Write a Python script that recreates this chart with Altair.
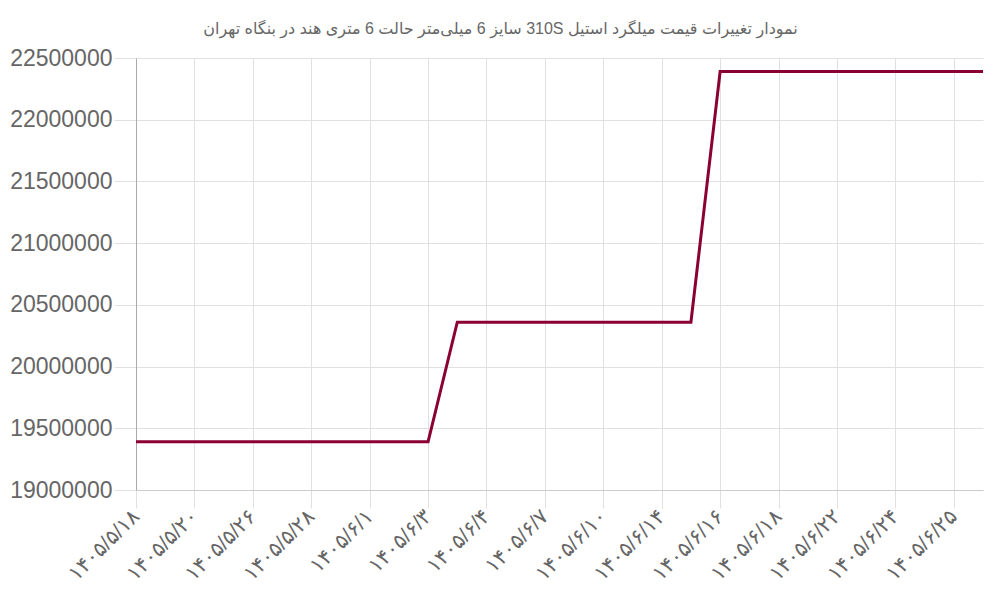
import json
import altair as alt
import pandas as pd

title_text = "نمودار تغییرات قیمت میلگرد استیل 310S سایز 6 میلی‌متر حالت 6 متری هند در بنگاه تهران"

tick_labels = [
    "۱۴۰۵/۵/۱۸", "۱۴۰۵/۵/۲۰", "۱۴۰۵/۵/۲۶", "۱۴۰۵/۵/۲۸", "۱۴۰۵/۶/۱",
    "۱۴۰۵/۶/۳", "۱۴۰۵/۶/۴", "۱۴۰۵/۶/۷", "۱۴۰۵/۶/۱۰", "۱۴۰۵/۶/۱۴",
    "۱۴۰۵/۶/۱۶", "۱۴۰۵/۶/۱۸", "۱۴۰۵/۶/۲۲", "۱۴۰۵/۶/۲۴", "۱۴۰۵/۶/۲۵",
]

point_index = list(range(30))
prices = [
    19390000, 19390000, 19390000, 19390000, 19390000,
    19390000, 19390000, 19390000, 19390000, 19390000,
    19390000, 20360000, 20360000, 20360000, 20360000,
    20360000, 20360000, 20360000, 20360000, 20360000,
    22390000, 22390000, 22390000, 22390000, 22390000,
    22390000, 22390000, 22390000, 22390000, 22390000,
]

y_ticks = [19000000, 19500000, 20000000, 20500000, 21000000, 21500000, 22000000, 22500000]
x_ticks = [2 * i for i in range(len(tick_labels))]

df = pd.DataFrame({"idx": point_index, "price": prices})

font = "Liberation Sans, DejaVu Sans, sans-serif"
label_expr = json.dumps(tick_labels, ensure_ascii=False) + "[datum.value / 2]"

chart = (
    alt.Chart(df)
    .mark_line(color="#8a0033", strokeWidth=3)
    .encode(
        x=alt.X(
            "idx:Q",
            scale=alt.Scale(domain=[0, 29], nice=False, zero=False),
            axis=alt.Axis(
                title=None,
                values=x_ticks,
                labelExpr=label_expr,
                labelAngle=-45,
                labelAlign="right",
                labelBaseline="middle",
                labelFontSize=21,
                labelColor="#666666",
                labelFont=font,
                labelPadding=5,
                tickSize=18,
                tickColor="#e0e0e0",
                gridColor="#e0e0e0",
                domainColor="#cccccc",
                labelOverlap=False,
            ),
        ),
        y=alt.Y(
            "price:Q",
            scale=alt.Scale(domain=[19000000, 22500000], nice=False, zero=False),
            axis=alt.Axis(
                title=None,
                values=y_ticks,
                format="d",
                labelFontSize=23,
                labelColor="#666666",
                labelFont=font,
                labelPadding=2,
                tickSize=22,
                tickColor="#e0e0e0",
                gridColor="#e0e0e0",
                domainColor="#aaaaaa",
                labelOverlap=False,
            ),
        ),
    )
    .properties(
        width=847,
        height=432,
        title=alt.TitleParams(
            text="\u202b" + title_text + "\u202c",
            fontSize=16,
            font=font,
            fontWeight="normal",
            color="#666666",
            anchor="middle",
            dx=-59,
            offset=10,
        ),
        autosize=alt.AutoSizeParams(type="none"),
        padding={"left": 128, "top": 50, "right": 9, "bottom": 102},
    )
    .configure_view(stroke=None)
)

chart.save("out.html", embed_options={"renderer": "svg", "actions": False})
